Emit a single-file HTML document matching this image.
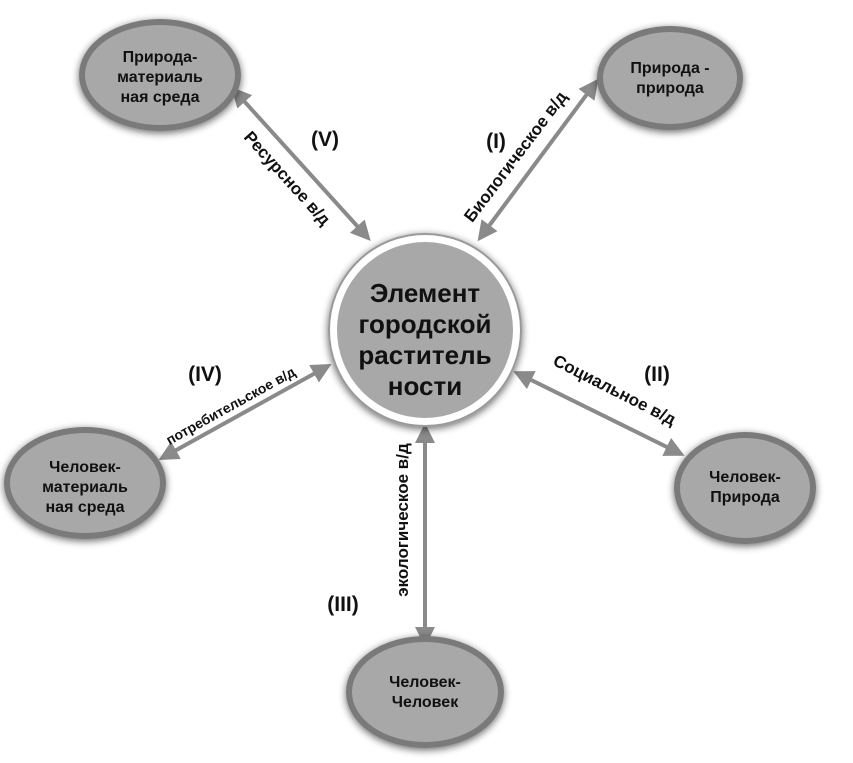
<!DOCTYPE html>
<html><head><meta charset="utf-8"><style>
body{margin:0;background:#fff;}
text{font-family:"Liberation Sans","DejaVu Sans",sans-serif;font-weight:bold;fill:#111;}
</style></head><body>
<svg width="853" height="758" viewBox="0 0 853 758" xmlns="http://www.w3.org/2000/svg">
<defs>
<filter id="sh" x="-30%" y="-30%" width="160%" height="160%"><feGaussianBlur in="SourceAlpha" stdDeviation="4"/><feOffset dx="0" dy="2"/><feComponentTransfer><feFuncA type="linear" slope="0.6"/></feComponentTransfer><feMerge><feMergeNode/><feMergeNode in="SourceGraphic"/></feMerge></filter>
<marker id="ah" viewBox="0 0 10 10" refX="8" refY="5" markerWidth="5" markerHeight="5" orient="auto-start-reverse"><path d="M0,0 L10,5 L0,10 z" fill="#8a8a8a"/></marker>
</defs>
<g stroke="#8a8a8a" stroke-width="4" marker-start="url(#ah)" marker-end="url(#ah)">
<line x1="234" y1="90" x2="368" y2="238"/>
<line x1="596" y1="82" x2="480" y2="238"/>
<line x1="328" y1="366" x2="162" y2="458"/>
<line x1="517" y1="373" x2="681" y2="454"/>
<line x1="425" y1="427" x2="425" y2="643"/>
</g>
<g filter="url(#sh)">
<circle cx="425" cy="330" r="96" fill="#fff" stroke="#999" stroke-width="2"/>
<circle cx="425" cy="330" r="88" fill="#a8a8a8"/>
</g>
<g fill="#a8a8a8" stroke="#7a7a7a" stroke-width="6" filter="url(#sh)">
<ellipse cx="160" cy="75" rx="78" ry="53"/>
<ellipse cx="670" cy="78" rx="70" ry="49"/>
<ellipse cx="745" cy="488" rx="68" ry="53"/>
<ellipse cx="425" cy="692" rx="76" ry="53"/>
<ellipse cx="85" cy="483" rx="78" ry="53"/>
</g>
<g font-size="26" text-anchor="middle">
<text x="425" y="302">Элемент</text>
<text x="425" y="333">городской</text>
<text x="425" y="364">раститель</text>
<text x="425" y="395">ности</text>
</g>
<g font-size="16" text-anchor="middle">
<text x="160" y="62">Природа-</text>
<text x="160" y="82">материаль</text>
<text x="160" y="102">ная среда</text>
<text x="670" y="73">Природа -</text>
<text x="670" y="93">природа</text>
<text x="745" y="482">Человек-</text>
<text x="745" y="502">Природа</text>
<text x="425" y="687">Человек-</text>
<text x="425" y="707">Человек</text>
<text x="85" y="472">Человек-</text>
<text x="85" y="492">материаль</text>
<text x="85" y="512">ная среда</text>
</g>
<g font-size="21" text-anchor="middle">
<text x="325" y="146">(V)</text>
<text x="496" y="148">(I)</text>
<text x="205" y="381">(IV)</text>
<text x="657" y="381">(II)</text>
<text x="343" y="611">(III)</text>
</g>
<g font-size="17" text-anchor="middle">
<text transform="translate(283,182) rotate(48)">Ресурсное в/д</text>
<text transform="translate(520,160) rotate(-53)">Биологическое в/д</text>
<text transform="translate(233,410) rotate(-29)" font-size="14">потребительское в/д</text>
<text transform="translate(612,395) rotate(27)">Социальное в/д</text>
<text transform="translate(408,520) rotate(-90)">экологическое в/д</text>
</g>
</svg>
</body></html>
